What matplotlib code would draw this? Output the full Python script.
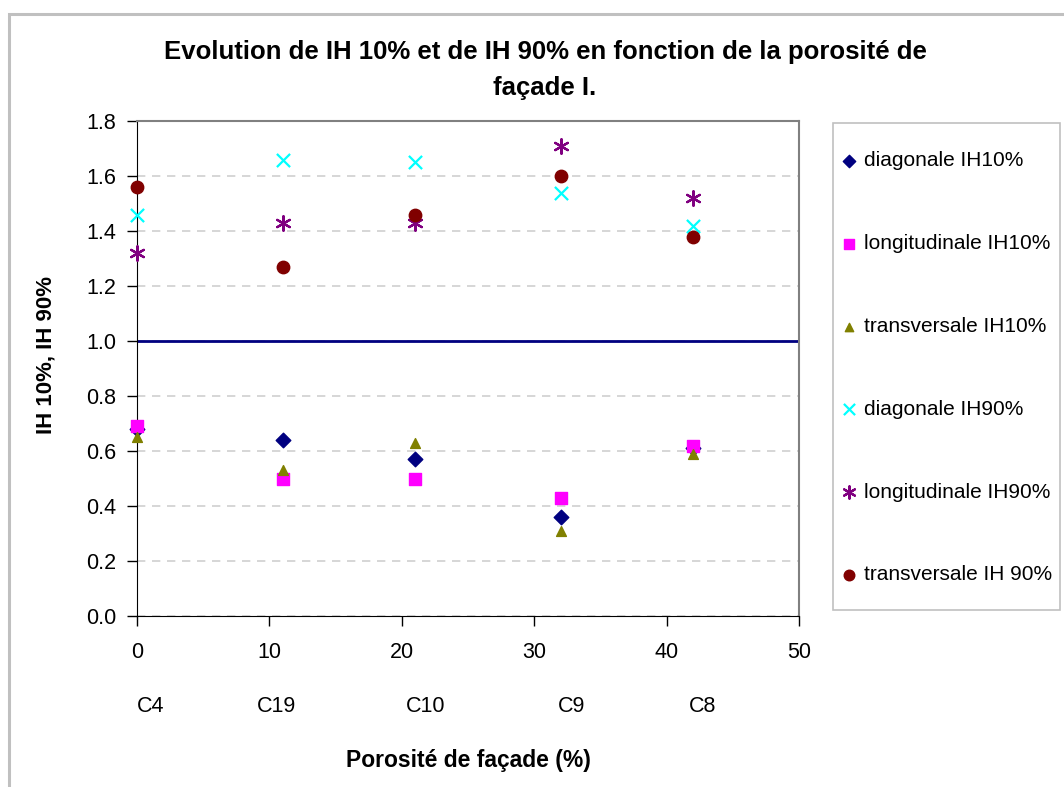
import matplotlib
matplotlib.use("Agg")
import matplotlib.pyplot as plt
from matplotlib.patches import Rectangle

plt.rcParams['font.family'] = ['Liberation Sans', 'DejaVu Sans']

# porosity (%) per configuration
porosite = [0, 11, 21, 32, 42]
configs = ['C4', 'C19', 'C10', 'C9', 'C8']

diag_ih10 = [0.68, 0.64, 0.57, 0.36, 0.61]
long_ih10 = [0.69, 0.50, 0.50, 0.43, 0.62]
trans_ih10 = [0.65, 0.53, 0.63, 0.31, 0.59]
diag_ih90 = [1.46, 1.66, 1.65, 1.54, 1.42]
long_ih90 = [1.32, 1.43, 1.43, 1.71, 1.52]
trans_ih90 = [1.56, 1.27, 1.46, 1.60, 1.38]

W, H = 1064, 787
fig = plt.figure(figsize=(W / 100, H / 100), dpi=100)

# chart area border (Excel style)
fig.patches.append(Rectangle((9 / W, -0.1), 1.2, 1 - 14 / H + 0.1,
                             transform=fig.transFigure, fill=False,
                             edgecolor='#c0c0c0', linewidth=2.2))

ax = fig.add_axes([137 / W, 1 - 616 / H, (799 - 137) / W, (616 - 121) / H])

series = [
    (diag_ih10, 'diagonale IH10%', dict(marker='D', color='#000080', s=55)),
    (long_ih10, 'longitudinale IH10%', dict(marker='s', color='#ff00ff', s=70)),
    (trans_ih10, 'transversale IH10%', dict(marker='^', color='#808000', s=50)),
    (diag_ih90, 'diagonale IH90%', dict(marker='x', color='#00ffff', s=90, linewidths=1.6)),
    (long_ih90, 'longitudinale IH90%', dict(marker=(6, 2, 0), color='#800080', s=110, linewidths=1.6)),
    (trans_ih90, 'transversale IH 90%', dict(marker='o', color='#800000', s=80)),
]
for vals, lab, kw in series:
    ax.scatter(porosite, vals, label=lab, zorder=3, clip_on=False, **kw)

ax.axhline(1.0, color='#000080', linewidth=2, zorder=2)

ax.set_xlim(0, 50)
ax.set_ylim(0, 1.8)
ax.set_xticks(range(0, 51, 10))
ax.set_yticks([i * 0.2 for i in range(10)])
ax.set_yticklabels([f'{i * 0.2:.1f}' for i in range(10)])
ax.yaxis.grid(True, linestyle=(0, (5, 4)), color='#d0d0d0', linewidth=1.2)
ax.set_axisbelow(True)
ax.tick_params(direction='out', length=7, width=1, labelsize=15.5, pad=8)
ax.tick_params(axis='x', pad=12)
for side in ['top', 'right']:
    ax.spines[side].set_color('#808080')
    ax.spines[side].set_linewidth(1.5)

# configuration names below the porosity ticks
config_x = [1, 10.5, 21.8, 32.8, 42.7]
for x, c in zip(config_x, configs):
    ax.text(x, -0.33, c, ha='center', va='center', fontsize=15.5,
            transform=ax.transData)

fig.text(468 / W, 1 - 760 / H, 'Porosité de façade (%)', ha='center', va='center',
         fontsize=16.5, fontweight='bold')
fig.text(46 / W, 1 - 355 / H, 'IH 10%, IH 90%', ha='center', va='center',
         rotation=90, fontsize=16, fontweight='bold')
fig.text(545 / W, 1 - 52 / H, 'Evolution de IH 10% et de IH 90% en fonction de la porosité de',
         ha='center', va='center', fontsize=18.5, fontweight='bold')
fig.text(545 / W, 1 - 88 / H, 'façade I.', ha='center', va='center',
         fontsize=18.5, fontweight='bold')

# legend box drawn separately, entries placed inside
fig.patches.append(Rectangle((833 / W, 1 - 610 / H), (1060 - 833) / W, (610 - 123) / H,
                             transform=fig.transFigure, fill=False,
                             edgecolor='#c0c0c0', linewidth=1.2))
leg = fig.legend(loc='upper left', bbox_to_anchor=(838.6 / W, 1 - 151.5 / H),
                 fontsize=15, frameon=False, labelspacing=3.06,
                 handletextpad=0.22, handlelength=1.0, borderpad=0,
                 borderaxespad=0, scatterpoints=1, markerscale=0.85)

fig.savefig('out.png', dpi=100)
